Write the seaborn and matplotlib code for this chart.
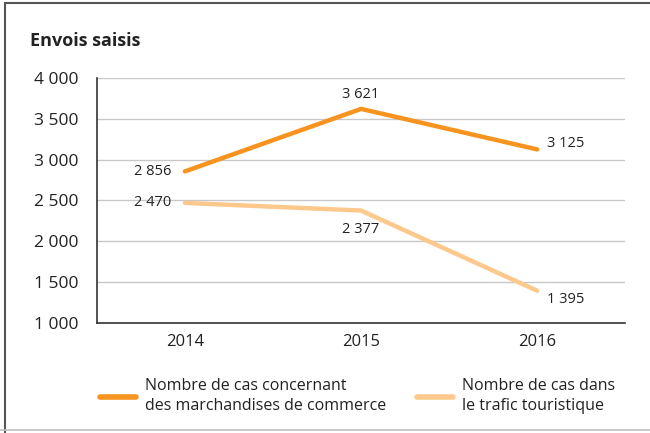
import matplotlib.pyplot as plt
import seaborn as sns
import pandas as pd

sns.set_style('white')
plt.rcParams['font.family'] = ['Open Sans', 'DejaVu Sans']

years = ['2014', '2015', '2016']
commerce = [2856, 3621, 3125]
tourisme = [2470, 2377, 1395]
series_names = ['Nombre de cas concernant\ndes marchandises de commerce',
                'Nombre de cas dans\nle trafic touristique']
colors = ['#F7931E', '#FDC88C']

df = pd.DataFrame({
    'annee': years * 2,
    'cas': commerce + tourisme,
    'serie': [series_names[0]] * 3 + [series_names[1]] * 3,
})

fig = plt.figure(figsize=(6.5, 4.33), dpi=100)
ax = fig.add_axes([0.149, 0.254, 0.813, 0.566])

sns.lineplot(data=df, x='annee', y='cas', hue='serie', palette=colors,
             linewidth=3.2, ax=ax, legend=False, sort=False)

ax.set_xlim(-0.5, 2.5)
ax.set_ylim(1000, 4000)
ax.set_yticks(range(1000, 4001, 500))
ax.set_yticklabels([f'{v:,}'.replace(',', ' ') for v in range(1000, 4001, 500)])
ax.set_xticks(range(3))
ax.set_xticklabels(years)
ax.set_xticks([-0.5, 0.5, 1.5, 2.5], minor=True)
ax.set_xlabel('')
ax.set_ylabel('')

ax.yaxis.grid(True, color='#c8c8c8', linewidth=1)
ax.tick_params(axis='y', length=7, color='#c8c8c8', labelsize=12.5,
               labelcolor='#222222', pad=6)
ax.tick_params(axis='x', which='major', length=0, labelsize=12,
               labelcolor='#222222', pad=8)
ax.tick_params(axis='x', which='minor', length=5, color='#c8c8c8')
for side in ['top', 'right']:
    ax.spines[side].set_visible(False)
for side in ['left', 'bottom']:
    ax.spines[side].set_color('#333333')
    ax.spines[side].set_linewidth(1.2)

fmt = lambda v: f'{v:,}'.replace(',', ' ')
lab = dict(fontsize=10.5, color='#222222')
ax.annotate(fmt(commerce[0]), (0, commerce[0]), xytext=(-10, 0),
            textcoords='offset points', ha='right', va='center', **lab)
ax.annotate(fmt(commerce[1]), (1, commerce[1]), xytext=(0, 5),
            textcoords='offset points', ha='center', va='bottom', **lab)
ax.annotate(fmt(commerce[2]), (2, commerce[2]), xytext=(7, 4),
            textcoords='offset points', ha='left', va='center', **lab)
ax.annotate(fmt(tourisme[0]), (0, tourisme[0]), xytext=(-10, 0),
            textcoords='offset points', ha='right', va='center', **lab)
ax.annotate(fmt(tourisme[1]), (1, tourisme[1]), xytext=(0, -8),
            textcoords='offset points', ha='center', va='top', **lab)
ax.annotate(fmt(tourisme[2]), (2, tourisme[2]), xytext=(7, -6),
            textcoords='offset points', ha='left', va='center', **lab)

fig.text(0.046, 0.905, 'Envois saisis', fontsize=13, fontweight='bold',
         color='#222222', va='center')

handles = [plt.Line2D([], [], color=c, linewidth=4) for c in colors]
leg = fig.legend(handles, series_names, loc='center left', ncol=2,
                 bbox_to_anchor=(0.131, 0.085), frameon=False, fontsize=11.5,
                 handlelength=2.3, handletextpad=0.55, columnspacing=1.9,
                 labelcolor='#222222')
for t in leg.get_texts():
    t.set_linespacing(1.35)

# cadre de la figure
fig.add_artist(plt.Line2D([0.008, 0.008], [0.0, 0.993], color='#555555', linewidth=1.5))
fig.add_artist(plt.Line2D([0.008, 1.0], [0.993, 0.993], color='#555555', linewidth=1.5))
fig.add_artist(plt.Line2D([0.0, 1.0], [0.006, 0.006], color='#c0c0c0', linewidth=1.2))

fig.savefig('out.png', dpi=100)
